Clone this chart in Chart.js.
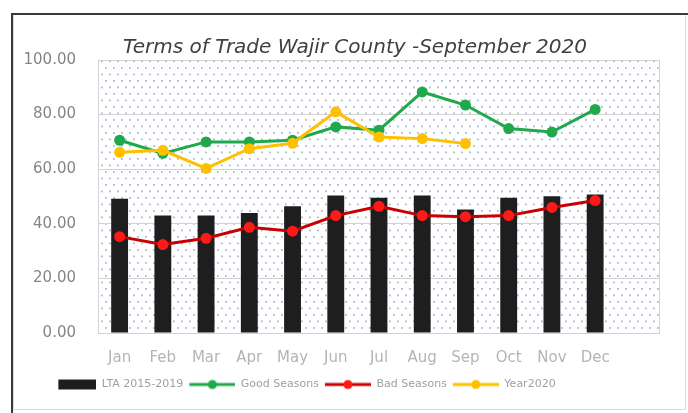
<!DOCTYPE html>
<html>
<head>
<meta charset="utf-8">
<script src="https://cdn.jsdelivr.net/npm/chart.js@4"></script>
<style>
  body { margin: 0; background: #fff; }
  #wrap { width: 688px; height: 413px; }
</style>
</head>
<body>
<div id="wrap"><canvas id="tot" width="688" height="413"></canvas></div>
<script>
// values
const months = ['Jan', 'Feb', 'Mar', 'Apr', 'May', 'Jun', 'Jul', 'Aug', 'Sep', 'Oct', 'Nov', 'Dec', ''];
const lta = [49.2, 43.0, 43.0, 44.0, 46.4, 50.4, 49.5, 50.4, 45.2, 49.5, 50.1, 50.7];
const goodSeasons = [70.6, 65.8, 70.0, 70.0, 70.6, 75.5, 74.3, 88.3, 83.5, 74.9, 73.6, 81.9];
const badSeasons = [35.3, 32.4, 34.7, 38.7, 37.3, 43.0, 46.4, 43.0, 42.6, 43.0, 46.0, 48.5];
const year2020 = [66.2, 66.9, 60.3, 67.5, 69.5, 81.0, 71.8, 71.2, 69.4];
const yTicks = [0, 20, 40, 60, 80, 100];

const FONT = '"DejaVu Sans", sans-serif';
const KEY_W = 52;

// little legend pictures, line + marker like excel (left margin = gap to previous item)
function legendLine(lineCol, dotCol) {
    const c = document.createElement('canvas');
    c.width = KEY_W; c.height = 12;
    const x = c.getContext('2d');
    x.strokeStyle = lineCol; x.lineWidth = 3;
    x.beginPath(); x.moveTo(6, 6); x.lineTo(KEY_W, 6); x.stroke();
    x.fillStyle = dotCol;
    x.beginPath(); x.arc(6 + (KEY_W - 6) / 2, 6, 4.5, 0, Math.PI * 2); x.fill();
    return c;
}
function legendBox() {
    const c = document.createElement('canvas');
    c.width = KEY_W; c.height = 12;
    const x = c.getContext('2d');
    x.fillStyle = '#1e1e1e';
    x.fillRect(KEY_W - 38, 1, 38, 10);
    return c;
}

// dotted fill of the plot area
function dotPattern(ctx) {
    const p = document.createElement('canvas');
    p.width = 8; p.height = 13;
    const x = p.getContext('2d');
    x.fillStyle = '#fff';
    x.fillRect(0, 0, 8, 13);
    x.fillStyle = 'rgba(110,140,200,0.6)';
    x.fillRect(1, 2, 1.8, 1.8);
    x.fillRect(5, 8.5, 1.8, 1.8);
    return ctx.createPattern(p, 'repeat');
}

const plotBg = {
    id: 'plotBg',
    afterLayout(chart) {
        // excel put the legend a bit left of centre, the title a bit right
        chart.legend.left -= 39;
        chart.legend.right -= 39;
        chart.legend.top += 4;
        chart.legend.bottom += 4;
        chart.titleBlock.left += 16;
        chart.titleBlock.right += 16;
    },
    beforeDraw(chart) {
        const { ctx, chartArea: a } = chart;
        ctx.save();
        ctx.fillStyle = dotPattern(ctx);
        ctx.fillRect(a.left, a.top, a.right - a.left, a.bottom - a.top);
        ctx.strokeStyle = '#d4d4d4';
        ctx.lineWidth = 1;
        ctx.strokeRect(a.left + 0.5, a.top + 0.5, a.right - a.left - 1, a.bottom - a.top);
        ctx.restore();
    },
    afterDraw(chart) {
        const ctx = chart.ctx;
        ctx.save();
        // outer frame
        ctx.strokeStyle = '#dcdcdc';
        ctx.lineWidth = 1;
        ctx.strokeRect(13.5, 14.5, 672, 395);
        ctx.strokeStyle = '#3a3a3a';
        ctx.lineWidth = 2;
        ctx.beginPath();
        ctx.moveTo(12, 413); ctx.lineTo(12, 14); ctx.lineTo(688, 14);
        ctx.stroke();
        ctx.restore();
    }
};

const legendPics = [legendBox(), legendLine('#1fa84c', '#1fa84c'), legendLine('#c80000', '#ff1a1a'), legendLine('#ffc000', '#ffc000')];

new Chart(document.getElementById('tot'), {
    type: 'bar',
    data: {
        labels: months,
        datasets: [
            { type: 'bar', label: 'LTA 2015-2019', data: lta, backgroundColor: '#1e1e1e',
              barPercentage: 0.39, categoryPercentage: 1, order: 4 },
            { type: 'line', label: 'Good Seasons', data: goodSeasons, borderColor: '#1fa84c',
              backgroundColor: '#1fa84c', borderWidth: 3, pointRadius: 5.5, pointBorderWidth: 0, order: 3 },
            { type: 'line', label: 'Bad Seasons', data: badSeasons, borderColor: '#c80000',
              backgroundColor: '#ff1a1a', borderWidth: 3, pointRadius: 5.5, pointBorderWidth: 0, order: 2 },
            { type: 'line', label: 'Year2020', data: year2020, borderColor: '#ffc000',
              backgroundColor: '#ffc000', borderWidth: 3, pointRadius: 5.5, pointBorderWidth: 0, order: 1 }
        ]
    },
    options: {
        responsive: false,
        animation: false,
        layout: { padding: { left: 18, right: 28, top: 18, bottom: 17 } },
        plugins: {
            title: {
                display: true,
                text: 'Terms of Trade Wajir County -September 2020',
                color: '#404040',
                font: { family: FONT, size: 20, style: 'italic', weight: 'normal' },
                padding: { top: 18, bottom: 0 }
            },
            legend: {
                position: 'bottom',
                labels: {
                    usePointStyle: true,
                    pointStyleWidth: KEY_W,
                    color: '#a0a0a0',
                    font: { family: FONT, size: 11 },
                    padding: 0,
                    generateLabels(chart) {
                        return chart.data.datasets.map((ds, i) => ({
                            text: ds.label,
                            pointStyle: legendPics[i],
                            fontColor: '#a0a0a0',
                            datasetIndex: i,
                            lineWidth: 0
                        }));
                    }
                }
            },
            tooltip: { enabled: false }
        },
        scales: {
            x: {
                grid: { display: false },
                border: { display: false },
                ticks: { color: '#b4b4b4', font: { family: FONT, size: 15 }, maxRotation: 0, padding: 8 }
            },
            y: {
                min: 0, max: 100,
                afterBuildTicks(scale) { scale.ticks = yTicks.map(v => ({ value: v })); },
                afterFit(scale) { scale.width = 80; },
                grid: { color: '#d2d2d2', drawTicks: false },
                border: { display: false },
                ticks: { color: '#858585', font: { family: FONT, size: 15 }, padding: 22,
                         callback: v => v.toFixed(2) }
            }
        }
    },
    plugins: [plotBg]
});
</script>
</body>
</html>
